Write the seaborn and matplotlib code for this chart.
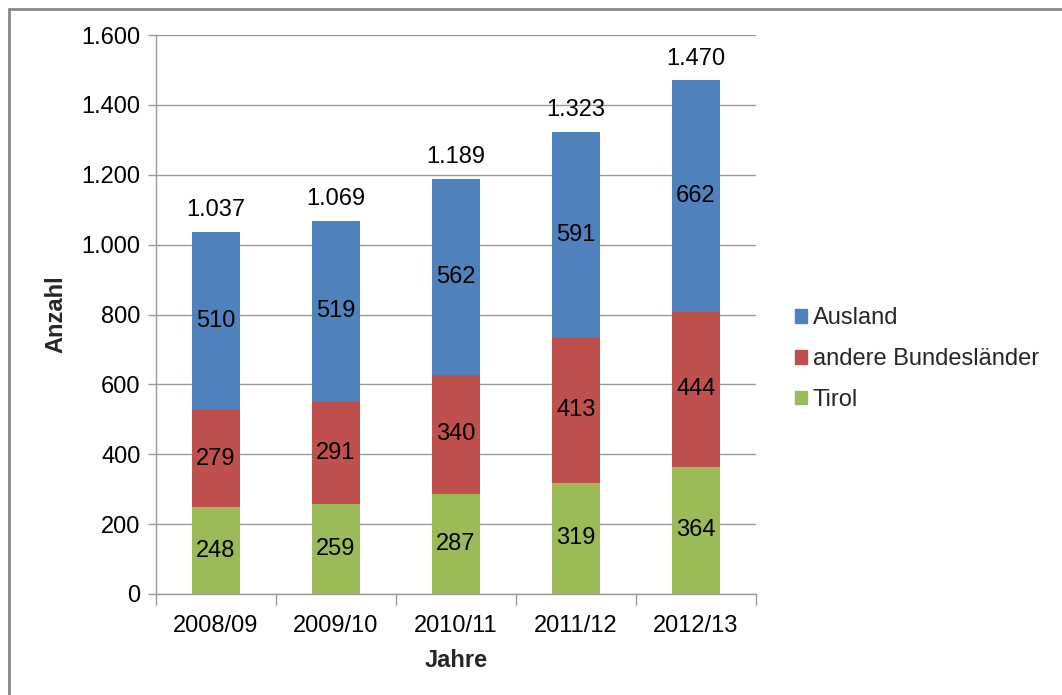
import matplotlib
matplotlib.use("Agg")
import matplotlib.pyplot as plt
import matplotlib.patches as mpatches
from matplotlib.lines import Line2D
from matplotlib.ticker import FuncFormatter, MultipleLocator
import numpy as np
import pandas as pd
import seaborn as sns

years = ["2008/09", "2009/10", "2010/11", "2011/12", "2012/13"]
tirol = [248, 259, 287, 319, 364]
bundeslaender = [279, 291, 340, 413, 444]
ausland = [510, 519, 562, 591, 662]
totals = [1037, 1069, 1189, 1323, 1470]

series_names = ["Tirol", "andere Bundesländer", "Ausland"]
colors = {"Tirol": "#9BBB59", "andere Bundesländer": "#C0504D", "Ausland": "#4F81BD"}

sns.set_theme(style="white")
plt.rcParams["font.family"] = ["Liberation Sans", "DejaVu Sans"]

FS = 17
df = pd.DataFrame({"Jahr": years, "Tirol": tirol,
                   "andere Bundesländer": bundeslaender, "Ausland": ausland})

fig = plt.figure(figsize=(10.62, 6.95), dpi=100)
ax = fig.add_axes([156 / 1062, 1 - 594 / 695, 600 / 1062, 559 / 695])

bottom = np.zeros(len(years))
for name in series_names:
    vals = df[name].to_numpy()
    sns.barplot(x="Jahr", y=name, data=df, color=colors[name], width=0.4,
                bottom=bottom, ax=ax, saturation=1, edgecolor="none", errorbar=None)
    for i, v in enumerate(vals):
        ax.text(i, bottom[i] + v / 2, f"{v}", ha="center", va="center",
                fontsize=FS, color="black")
    bottom = bottom + vals

fmt = lambda v: f"{int(v):,}".replace(",", ".")
for i, t in enumerate(totals):
    ax.text(i, t + 30, fmt(t), ha="center", va="bottom", fontsize=FS, color="black")

ax.set_xlim(-0.5, len(years) - 0.5)
ax.set_ylim(0, 1600)
ax.yaxis.set_major_locator(MultipleLocator(200))
ax.yaxis.set_major_formatter(FuncFormatter(lambda v, p: fmt(v)))
ax.grid(axis="y", color="#9A9A9A", linewidth=1)
ax.set_axisbelow(True)

for s in ["top", "right"]:
    ax.spines[s].set_visible(False)
for s in ["left", "bottom"]:
    ax.spines[s].set_color("#9A9A9A")
    ax.spines[s].set_linewidth(1)

ax.tick_params(axis="y", which="major", left=True, length=6, width=1,
               color="#9A9A9A", labelsize=FS, pad=5, labelcolor="black")
ax.tick_params(axis="x", which="major", bottom=False, labelsize=FS, pad=9,
               labelcolor="black")
ax.set_xticks(np.arange(-0.5, len(years) + 0.5, 1), minor=True)
ax.tick_params(axis="x", which="minor", bottom=True, length=8, width=1, color="#9A9A9A")

ax.set_xlabel("Jahre", fontsize=FS, fontweight="bold", labelpad=9)
ax.set_ylabel("Anzahl", fontsize=FS, fontweight="bold", labelpad=10)

handles = [mpatches.Patch(color=colors[n], label=n) for n in reversed(series_names)]
leg = ax.legend(handles=handles, loc="center left", bbox_to_anchor=(1.065, 0.42),
                frameon=False, fontsize=FS, handlelength=0.5, handleheight=0.5,
                handletextpad=0.25, labelspacing=0.8, borderpad=0, borderaxespad=0)

# frame lines along top and left edge of the figure
fig.add_artist(Line2D([0.0085, 1.0], [0.987, 0.987], transform=fig.transFigure,
                      color="#878787", linewidth=2))
fig.add_artist(Line2D([0.0085, 0.0085], [0.0, 0.987], transform=fig.transFigure,
                      color="#878787", linewidth=2))

fig.savefig("out.png", dpi=100, facecolor="white")
